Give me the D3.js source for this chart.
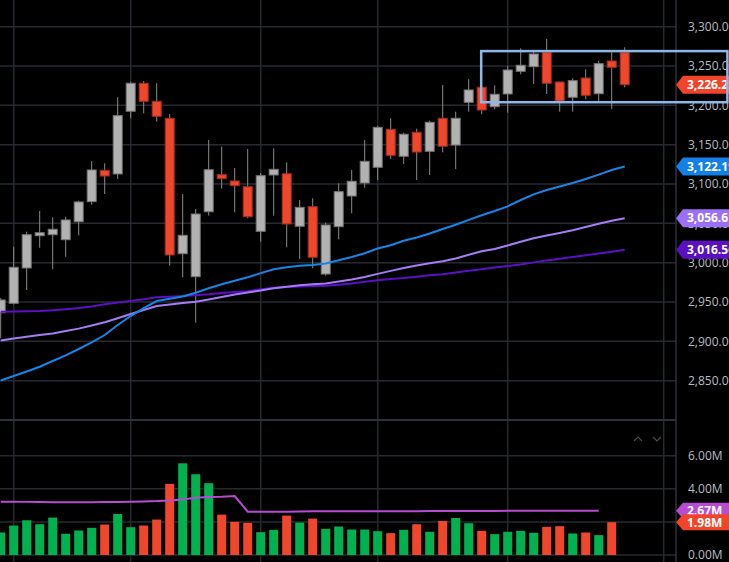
<!DOCTYPE html>
<html>
<head>
<script src="https://d3js.org/d3.v7.min.js"></script>
<style>
    html, body { margin: 0; padding: 0; background: #000; overflow: hidden; }
    svg { display: block; }
</style>
</head>
<body>
<script>
// OHLC per session (index 0..48)
let opens  = [2936.4, 2948.4, 2993.3, 3034.3, 3035.6, 3029.2, 3052.1, 3077.6, 3117.5, 3112.8,
              3192.5, 3228.1, 3205.2, 3183.6, 3011.4, 2982.2, 3064.8, 3111.9, 3103.9, 3096.6,
              3039.9, 3111.5, 3113.1, 3046.3, 3071.2, 2985.6, 3045.8, 3084.8, 3101.3, 3121.3,
              3169.6, 3135.3, 3165.8, 3141.6, 3183.6, 3149.6, 3203.9, 3223.0, 3198.3, 3214.5,
              3243.3, 3249.2, 3267.0, 3229.7, 3210.3, 3234.8, 3214.8, 3256.4, 3267.0];
let highs  = [2955.0, 3020.3, 3039.4, 3065.7, 3057.7, 3058.5, 3078.8, 3129.3, 3126.4, 3210.3,
              3230.1, 3231.0, 3228.1, 3189.0, 3087.3, 3068.3, 3156.0, 3147.5, 3120.4, 3144.6,
              3113.6, 3145.4, 3127.6, 3079.7, 3081.9, 3050.9, 3100.9, 3117.9, 3156.0, 3173.8,
              3183.6, 3165.3, 3170.4, 3180.5, 3225.9, 3192.0, 3233.2, 3224.0, 3225.5, 3250.0,
              3272.6, 3270.4, 3284.4, 3230.0, 3234.4, 3245.8, 3256.8, 3267.5, 3273.8];
let lows   = [2904.0, 2947.0, 2965.3, 3019.0, 2991.6, 3007.6, 3034.8, 3073.7, 3087.3, 3106.4,
              3183.6, 3189.9, 3179.3, 2996.2, 2981.4, 2923.7, 3059.8, 3094.1, 3064.0, 3056.4,
              3026.7, 3059.8, 3019.6, 3004.7, 2992.9, 2983.5, 3029.7, 3062.8, 3095.3, 3105.1,
              3131.8, 3125.5, 3105.1, 3111.5, 3140.3, 3119.1, 3192.0, 3188.7, 3195.0, 3190.7,
              3239.5, 3227.2, 3214.5, 3192.0, 3192.0, 3207.7, 3205.6, 3195.0, 3223.0];
let closes = [2952.6, 2994.2, 3035.6, 3038.1, 3042.5, 3054.3, 3077.2, 3117.9, 3110.2, 3186.9,
              3228.1, 3205.2, 3186.1, 3009.8, 3034.8, 3061.9, 3118.2, 3106.8, 3097.9, 3058.5,
              3110.6, 3118.7, 3049.2, 3070.4, 3006.9, 3047.9, 3090.3, 3103.5, 3128.9, 3172.1,
              3136.5, 3163.3, 3140.7, 3178.5, 3148.0, 3183.6, 3219.6, 3194.1, 3214.1, 3245.0,
              3251.0, 3265.3, 3228.1, 3205.6, 3231.4, 3212.8, 3253.0, 3248.4, 3226.25];

// volume in millions (last session has none yet)
let volumes = [1.36, 1.78, 2.10, 1.86, 2.26, 1.28, 1.48, 1.64, 1.84, 2.48,
               1.68, 1.78, 2.14, 4.30, 5.54, 4.88, 4.34, 2.44, 2.00, 1.94,
               1.38, 1.52, 2.38, 1.96, 2.20, 1.58, 1.72, 1.54, 1.54, 1.44,
               1.32, 1.52, 1.86, 1.40, 2.06, 2.24, 1.92, 1.46, 1.26, 1.40,
               1.46, 1.34, 1.70, 1.74, 1.30, 1.36, 1.20, 1.98];
let volumeMA = [3.22, 3.22, 3.21, 3.20, 3.19, 3.18, 3.18, 3.19, 3.20, 3.20,
                3.22, 3.24, 3.26, 3.30, 3.36, 3.46, 3.50, 3.52, 3.56, 2.62,
                2.62, 2.62, 2.62, 2.63, 2.64, 2.64, 2.64, 2.64, 2.64, 2.64,
                2.65, 2.65, 2.65, 2.66, 2.66, 2.66, 2.66, 2.66, 2.66, 2.67,
                2.67, 2.67, 2.67, 2.68, 2.68, 2.68, 2.67];

// moving averages
let maFast = [2850.2, 2856.0, 2861.7, 2867.7, 2875.0, 2882.3, 2890.3, 2898.6, 2908.1, 2920.8,
              2932.2, 2942.2, 2951.3, 2954.1, 2957.0, 2961.9, 2967.5, 2972.5, 2977.1, 2981.4,
              2986.8, 2991.7, 2994.2, 2996.2, 2997.1, 2999.1, 3003.1, 3007.2, 3012.1, 3018.1,
              3022.2, 3027.8, 3032.0, 3037.1, 3042.8, 3048.2, 3054.4, 3060.3, 3065.7, 3071.6,
              3079.7, 3086.8, 3092.4, 3096.9, 3101.3, 3106.4, 3112.0, 3117.8, 3122.19];
let maMid  = [2901.0, 2903.5, 2905.9, 2908.1, 2910.1, 2913.2, 2916.2, 2920.2, 2924.4, 2929.4,
              2934.8, 2939.9, 2945.0, 2946.9, 2948.8, 2950.4, 2953.2, 2956.4, 2959.6, 2962.1,
              2964.8, 2967.6, 2969.4, 2971.3, 2972.5, 2973.7, 2976.1, 2978.6, 2981.8, 2985.8,
              2989.6, 2993.3, 2996.4, 2999.2, 3001.8, 3005.3, 3010.2, 3014.5, 3017.4, 3021.9,
              3026.7, 3031.0, 3034.6, 3037.8, 3041.3, 3045.4, 3049.6, 3053.3, 3056.61];
let maSlow = [2937.7, 2938.0, 2938.3, 2938.6, 2939.5, 2940.8, 2942.4, 2944.3, 2947.2, 2949.3,
              2951.3, 2953.5, 2956.0, 2956.8, 2957.7, 2958.6, 2959.8, 2961.5, 2962.8, 2963.8,
              2966.2, 2968.2, 2969.1, 2969.9, 2970.4, 2970.6, 2972.0, 2973.7, 2975.7, 2977.6,
              2979.3, 2980.5, 2982.1, 2983.9, 2985.3, 2987.5, 2989.7, 2991.7, 2993.8, 2995.8,
              2997.8, 3000.4, 3002.7, 3005.1, 3007.2, 3009.4, 3011.6, 3013.9, 3016.56];

let priceTicks = [2850, 2900, 2950, 3000, 3050, 3100, 3150, 3200, 3250, 3300];
let volumeTicks = [0, 2, 4, 6];
let timeGrid = [1, 10, 20, 29, 39, 51];   // session indexes of vertical grid lines
let boxIndex = [36.96, 55.9];             // drawn rectangle, time span
let boxPrice = [3204, 3269];              // drawn rectangle, price span

const W = 729, H = 562, paneRight = 676;
const upColor = "#b2b2b2", downColor = "#f0462b";
const gridColor = "#262a30";

let svg = d3.select("body").append("svg")
    .attr("width", W)
    .attr("height", H)
    .style("background", "#000")
    .style("font-family", "'Open Sans', 'DejaVu Sans', sans-serif");

// scales
let x = d3.scaleLinear().domain([0, 48]).range([0.7, 624.7]);
let y = d3.scaleLinear().domain([2850, 3300]).range([380.7, 26.7]);
let yv = d3.scaleLinear().domain([0, 6]).range([555, 455.7]);

// horizontal grid lines
svg.append("g").selectAll("line").data(priceTicks).join("line")
    .attr("x1", 0).attr("x2", paneRight)
    .attr("y1", d => y(d)).attr("y2", d => y(d))
    .attr("stroke", gridColor).attr("stroke-width", 1.5);
svg.append("g").selectAll("line").data(volumeTicks).join("line")
    .attr("x1", 0).attr("x2", paneRight)
    .attr("y1", d => yv(d)).attr("y2", d => yv(d))
    .attr("stroke", gridColor).attr("stroke-width", 1.5);

// vertical grid lines
svg.append("g").selectAll("line").data(timeGrid).join("line")
    .attr("x1", d => x(d)).attr("x2", d => x(d))
    .attr("y1", 0).attr("y2", H)
    .attr("stroke", gridColor).attr("stroke-width", 1.5);

// pane separators
svg.append("line").attr("x1", 0).attr("x2", paneRight).attr("y1", 420).attr("y2", 420)
    .attr("stroke", "#2e3238").attr("stroke-width", 2);
svg.append("line").attr("x1", paneRight).attr("x2", paneRight).attr("y1", 0).attr("y2", H)
    .attr("stroke", "#2e3238").attr("stroke-width", 1.5);

let candles = closes.map((c, i) => ({ i: i, o: opens[i], h: highs[i], l: lows[i], c: c, up: c >= opens[i] }));

// wicks
svg.append("g").selectAll("line").data(candles).join("line")
    .attr("x1", d => x(d.i)).attr("x2", d => x(d.i))
    .attr("y1", d => y(d.h)).attr("y2", d => y(d.l))
    .attr("stroke", "#8a8a8a").attr("stroke-width", 1);

// bodies
svg.append("g").selectAll("rect").data(candles).join("rect")
    .attr("x", d => x(d.i) - 4.5)
    .attr("width", 9)
    .attr("y", d => y(Math.max(d.o, d.c)))
    .attr("height", d => Math.max(1, Math.abs(y(d.o) - y(d.c))))
    .attr("fill", d => d.up ? upColor : downColor)
    .attr("stroke", d => d.up ? "#767676" : "#9c2f1c")
    .attr("stroke-width", 1);

// moving average lines
let maLine = d3.line().x((d, i) => x(i)).y(d => y(d));
[[maSlow, "#5b10c4"], [maMid, "#a47cf4"], [maFast, "#1586e8"]].forEach(([vals, col]) => {
    svg.append("path").datum(vals)
        .attr("d", maLine)
        .attr("fill", "none")
        .attr("stroke", col)
        .attr("stroke-width", 2);
});

// volume bars
svg.append("g").selectAll("rect").data(volumes).join("rect")
    .attr("x", (d, i) => x(i) - 4.5)
    .attr("width", 9)
    .attr("y", d => yv(d))
    .attr("height", d => yv(0) - yv(d))
    .attr("fill", (d, i) => candles[i].up ? "#00b24f" : downColor);

// volume moving average
svg.append("path").datum(volumeMA)
    .attr("d", d3.line().x((d, i) => x(i)).y(d => yv(d)))
    .attr("fill", "none")
    .attr("stroke", "#b64cd2")
    .attr("stroke-width", 2);

// price axis labels
let fmt = d3.format(",.2f");
svg.append("g").selectAll("text").data(priceTicks).join("text")
    .attr("x", 688).attr("y", d => y(d))
    .attr("dy", "0.35em")
    .attr("font-size", 12)
    .attr("fill", "#b8bbc2")
    .text(d => fmt(d));

// volume axis labels
svg.append("g").selectAll("text").data(volumeTicks.filter(d => d !== 2)).join("text")
    .attr("x", 688).attr("y", d => yv(d))
    .attr("dy", "0.35em")
    .attr("font-size", 12)
    .attr("fill", "#b8bbc2")
    .text(d => d.toFixed(2) + "M");

// value tags on the right axis
function tag(yc, h, col, label) {
    let g = svg.append("g");
    g.append("path")
        .attr("d", `M${paneRight},${yc} L${paneRight + 7},${yc - h / 2} L${W + 5},${yc - h / 2} L${W + 5},${yc + h / 2} L${paneRight + 7},${yc + h / 2} Z`)
        .attr("fill", col);
    g.append("text")
        .attr("x", 687).attr("y", yc)
        .attr("dy", "0.36em")
        .attr("font-size", 12)
        .attr("font-weight", "bold")
        .attr("fill", "#fff")
        .text(label);
}
let last = candles[candles.length - 1];
tag(y(maFast[48]), 18, "#1280e6", fmt(maFast[48]));
tag(y(maMid[48]), 18, "#9d6ff6", fmt(maMid[48]));
tag(y(maSlow[48]), 18, "#5a10c0", fmt(maSlow[48]));
tag(y(last.c), 18, last.up ? upColor : "#f2442a", fmt(last.c));
tag(yv(volumeMA[volumeMA.length - 1]), 16, "#b84ad4", volumeMA[volumeMA.length - 1].toFixed(2) + "M");
tag(yv(volumes[volumes.length - 1]), 16, "#f2442a", volumes[volumes.length - 1].toFixed(2) + "M");

// drawn rectangle
svg.append("rect")
    .attr("x", x(boxIndex[0]))
    .attr("y", y(boxPrice[1]))
    .attr("width", x(boxIndex[1]) - x(boxIndex[0]))
    .attr("height", y(boxPrice[0]) - y(boxPrice[1]))
    .attr("fill", "none")
    .attr("stroke", "#8fb6ea")
    .attr("stroke-width", 2.5);

// pane up / down chevrons
[[638, -1], [657, 1]].forEach(([cx, dir]) => {
    svg.append("path")
        .attr("d", `M${cx - 4},${439 - dir * 2} L${cx},${439 + dir * 2} L${cx + 4},${439 - dir * 2}`)
        .attr("fill", "none")
        .attr("stroke", "#4a4d52")
        .attr("stroke-width", 1.2);
});
</script>
</body>
</html>
